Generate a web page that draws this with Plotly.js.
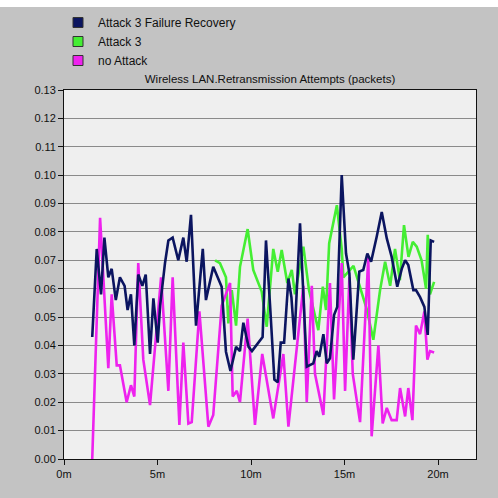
<!DOCTYPE html>
<html><head><meta charset="utf-8">
<script src="https://cdn.plot.ly/plotly-3.0.1.min.js"></script>
<style>html,body{margin:0;padding:0;background:#c3c3c3;}#chart{width:498px;height:498px;}</style>
</head><body><div id="chart"></div>
<script>
// time in minutes, values in packets
const noAttackX = [1.51,1.93,2.37,2.55,2.82,2.99,3.35,3.58,3.76,3.97,4.24,4.60,5.19,5.58,5.81,6.17,6.38,6.65,6.83,7.24,7.72,7.98,8.43,8.88,9.02,9.24,9.41,9.82,10.21,10.60,11.19,11.73,12.00,12.80,12.98,13.25,13.42,13.60,13.87,14.22,14.44,14.85,15.03,15.26,15.44,15.83,16.27,16.45,16.81,17.04,17.26,17.52,17.79,17.97,18.24,18.41,18.63,18.82,19.04,19.27,19.43,19.57,19.79];
const noAttackY = [0.000,0.085,0.032,0.058,0.033,0.033,0.020,0.026,0.022,0.069,0.035,0.019,0.064,0.024,0.064,0.012,0.041,0.0125,0.013,0.052,0.0114,0.0155,0.054,0.062,0.022,0.024,0.020,0.0495,0.012,0.037,0.0143,0.037,0.0114,0.061,0.020,0.061,0.030,0.024,0.0155,0.062,0.021,0.069,0.024,0.064,0.030,0.013,0.071,0.008,0.040,0.0125,0.018,0.0137,0.0137,0.025,0.015,0.025,0.0137,0.047,0.044,0.052,0.035,0.038,0.0375];

const recoveryX = [1.51,1.75,1.98,2.16,2.37,2.55,2.77,2.99,3.24,3.40,3.58,3.76,3.97,4.19,4.37,4.60,4.78,5.01,5.14,5.40,5.58,5.81,6.11,6.38,6.56,6.79,7.06,7.42,7.59,7.98,8.43,8.66,8.90,9.20,9.41,9.59,9.87,10.05,10.62,10.80,11.02,11.25,11.43,11.59,11.77,12.00,12.16,12.32,12.62,12.98,13.33,13.51,13.65,13.87,14.05,14.22,14.44,14.61,14.85,15.08,15.26,15.47,15.79,16.00,16.22,16.42,16.72,16.99,17.26,17.52,17.82,18.06,18.24,18.41,18.68,18.82,19.04,19.27,19.45,19.61,19.79];
const recoveryY = [0.043,0.074,0.058,0.078,0.064,0.067,0.056,0.064,0.061,0.0525,0.058,0.040,0.065,0.061,0.065,0.037,0.0566,0.041,0.054,0.069,0.077,0.078,0.070,0.078,0.0695,0.086,0.047,0.074,0.056,0.0677,0.0607,0.0378,0.031,0.0395,0.038,0.048,0.0395,0.038,0.043,0.077,0.054,0.028,0.027,0.041,0.041,0.0636,0.057,0.042,0.083,0.0325,0.0337,0.038,0.036,0.044,0.0337,0.0355,0.0507,0.0536,0.100,0.0724,0.0654,0.035,0.066,0.0666,0.0724,0.0695,0.0783,0.087,0.0777,0.0712,0.0607,0.067,0.070,0.0683,0.0595,0.0595,0.057,0.0536,0.0437,0.077,0.0765];

const attackX = [8.08,8.34,8.66,8.79,8.97,9.20,9.41,9.82,10.12,10.57,10.84,11.19,11.43,11.64,11.94,12.18,12.35,12.80,13.10,13.60,13.84,14.01,14.18,14.59,14.85,14.94,15.48,15.83,16.18,16.54,16.90,17.17,17.44,17.70,17.96,18.18,18.42,18.65,18.86,19.12,19.36,19.45,19.57,19.79];
const attackY = [0.070,0.069,0.064,0.0478,0.0595,0.047,0.0677,0.081,0.0666,0.059,0.0466,0.074,0.066,0.0736,0.062,0.0666,0.058,0.0748,0.0595,0.0454,0.0607,0.0525,0.076,0.0894,0.074,0.064,0.068,0.0607,0.053,0.042,0.0595,0.0695,0.061,0.074,0.063,0.0824,0.0712,0.0765,0.0748,0.070,0.060,0.079,0.058,0.0624];

const names = ['Attack 3 Failure Recovery','Attack 3','no Attack'];
const colors = ['#0b1560','#44ee33','#ee22ee'];
const yTicks = [0,0.01,0.02,0.03,0.04,0.05,0.06,0.07,0.08,0.09,0.10,0.11,0.12,0.13];
const xTicks = [0,5,10,15,20];

const lw = 2.6;
const data = [
  {x: attackX, y: attackY, mode:'lines', line:{color:colors[1], width:lw}, showlegend:false, hoverinfo:'skip'},
  {x: noAttackX, y: noAttackY, mode:'lines', line:{color:colors[2], width:lw}, showlegend:false, hoverinfo:'skip'},
  {x: recoveryX, y: recoveryY, mode:'lines', line:{color:colors[0], width:lw}, showlegend:false, hoverinfo:'skip'}
];
names.forEach((n,i)=>{
  data.push({x:[null], y:[null], mode:'markers', name:n,
    marker:{symbol:'square', size:10, color:colors[i], line:{color:'#333', width:1}}, showlegend:true});
});

const layout = {
  width:498, height:498,
  paper_bgcolor:'#c3c3c3', plot_bgcolor:'#efefef',
  margin:{l:64, r:22, t:90, b:39, autoexpand:false},
  font:{family:'Liberation Sans, Arial, sans-serif', size:11, color:'#111'},
  title:{text:'Wireless LAN.Retransmission Attempts (packets)', font:{size:11.5, color:'#111'},
    xref:'paper', x:0.5, xanchor:'center', yref:'container', y:1-79/498, yanchor:'middle', automargin:false},
  xaxis:{range:[0,22.03], tickvals:xTicks, ticktext:xTicks.map(v=>v+'m'), showgrid:false, zeroline:false,
    showline:true, linecolor:'#111', linewidth:1, mirror:true, ticks:'outside', ticklen:5, tickcolor:'#111',
    tickfont:{size:11}, automargin:false},
  yaxis:{range:[0,0.13], tickvals:yTicks, ticktext:yTicks.map(v=>v.toFixed(2)), showgrid:true, gridcolor:'#8a8a8a', gridwidth:1,
    zeroline:false, showline:true, linecolor:'#111', linewidth:1, mirror:true, ticks:'outside', ticklen:5, tickcolor:'#111',
    tickfont:{size:11}, automargin:false},
  legend:{xref:'container', yref:'container', x:58/498, y:1-8/498, xanchor:'left', yanchor:'top',
    bgcolor:'rgba(0,0,0,0)', font:{size:12, color:'#111'}, tracegroupgap:0, itemwidth:30},
  shapes:[
    {type:'rect', xref:'paper', yref:'paper', x0:-64/412, x1:1+22/412, y0:1+83/369, y1:1+91/369, fillcolor:'#ffffff', line:{width:0}, layer:'below'}
  ]
};
Plotly.newPlot('chart', data, layout, {displayModeBar:false, staticPlot:true});
</script>
</body></html>
